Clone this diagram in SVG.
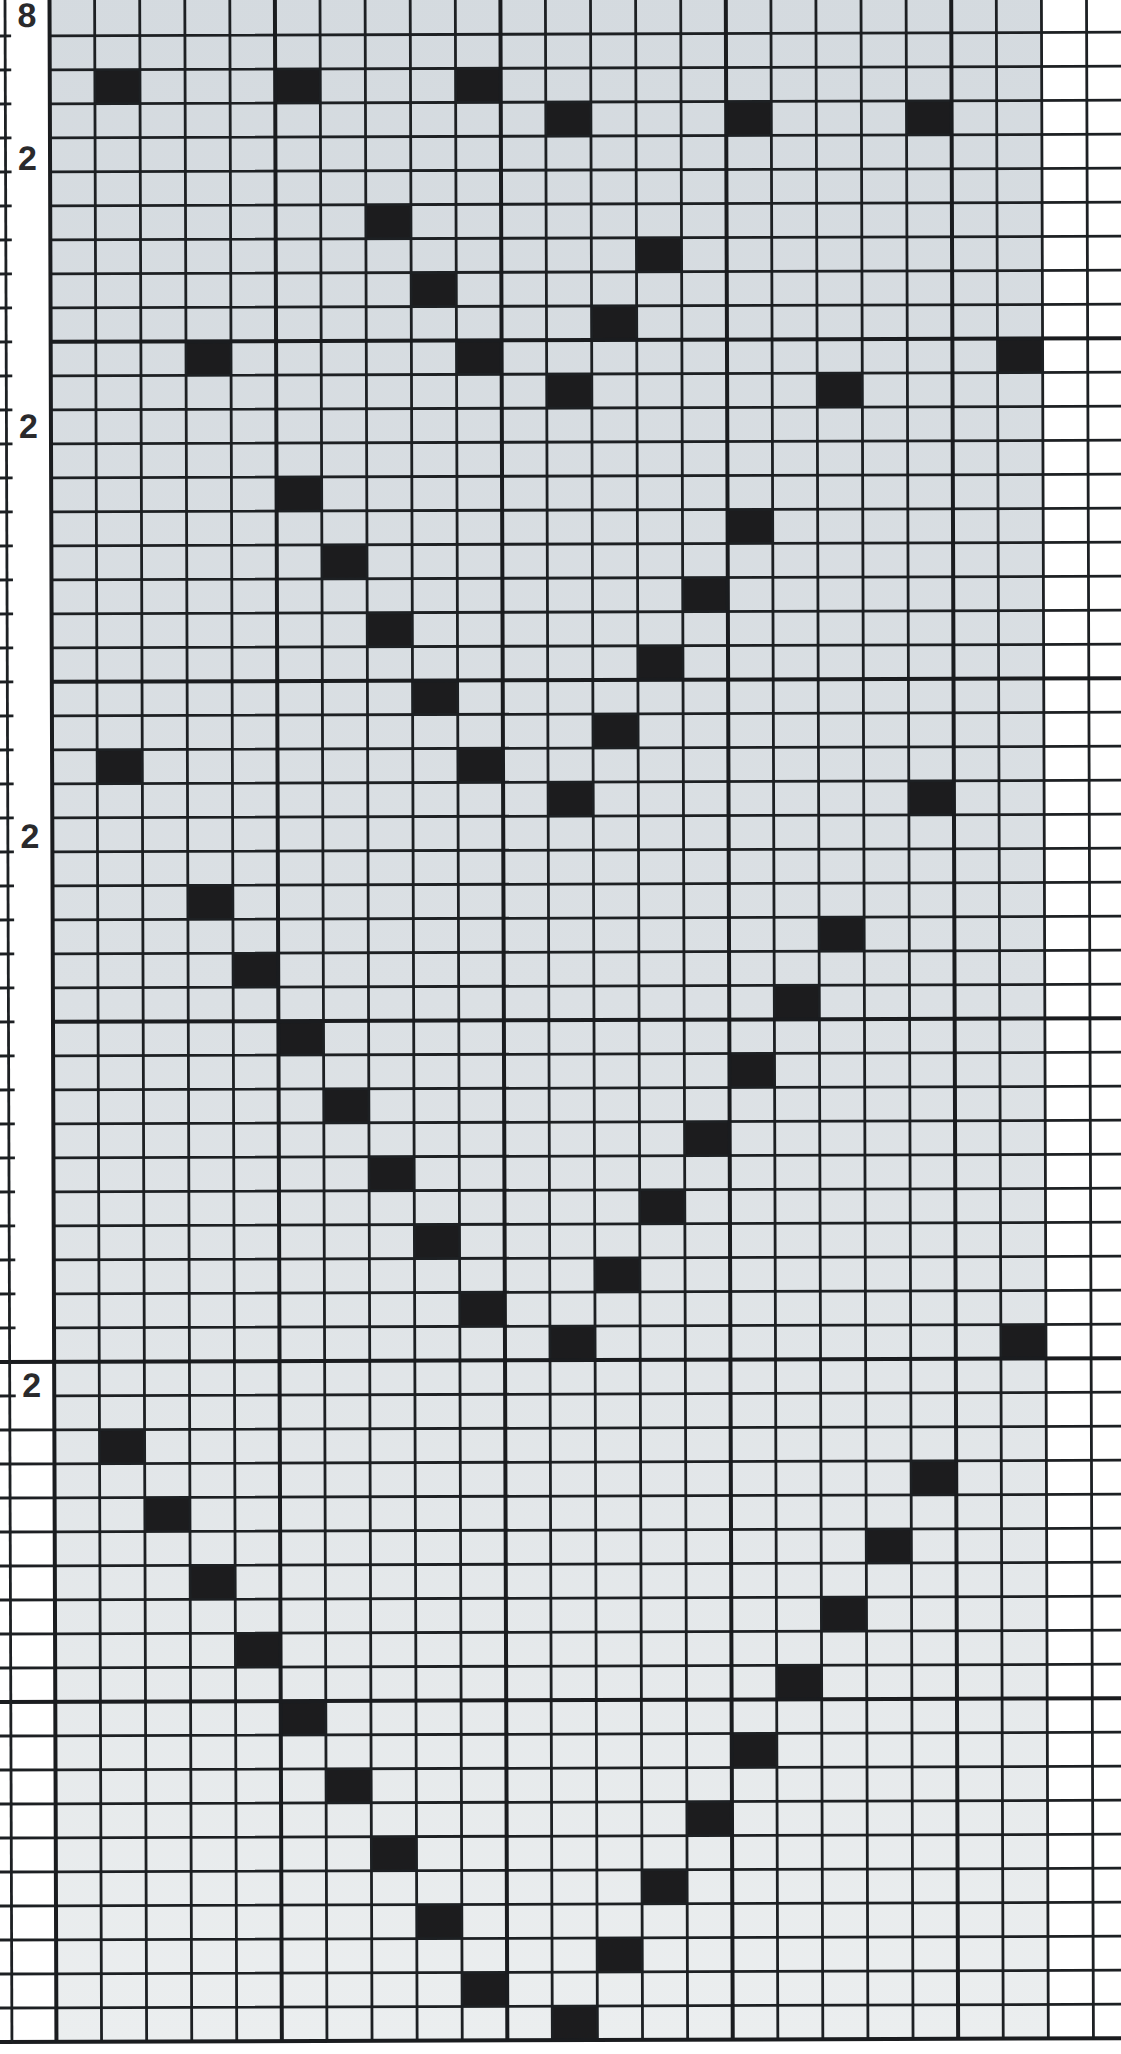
<svg xmlns="http://www.w3.org/2000/svg" width="1121" height="2054" viewBox="0 0 1121 2054">
<style>
.ln{stroke:#1d2023;stroke-width:2.8;fill:none}
.thk{stroke:#1a1c1f;stroke-width:4;fill:none}
.sq{fill:#1c1c1e}
.lbl{font-family:"Liberation Sans",Arial,sans-serif;font-weight:bold;font-size:34px;fill:#2a2a2c;text-anchor:middle}
</style>
<defs>
<linearGradient id="shade" x1="0" y1="0" x2="0" y2="1">
<stop offset="0" stop-color="#d4dadf"/>
<stop offset="0.5" stop-color="#dbe0e4"/>
<stop offset="1" stop-color="#ebeeef"/>
</linearGradient>
</defs>
<rect x="0" y="0" width="1121" height="2054" fill="#ffffff"/>
<g transform="rotate(-0.195)">
<rect id="chart-area" x="49.5" y="-40" width="991.9" height="2082" fill="url(#shade)"/>
<g id="stitches">
<rect class="sq" x="94.6" y="70" width="45.1" height="34"/>
<rect class="sq" x="274.9" y="70" width="45.1" height="34"/>
<rect class="sq" x="455.3" y="70" width="45.1" height="34"/>
<rect class="sq" x="545.4" y="104" width="45.1" height="34"/>
<rect class="sq" x="725.8" y="104" width="45.1" height="34"/>
<rect class="sq" x="906.1" y="104" width="45.1" height="34"/>
<rect class="sq" x="365.1" y="206" width="45.1" height="34"/>
<rect class="sq" x="635.6" y="240" width="45.1" height="34"/>
<rect class="sq" x="410.2" y="274" width="45.1" height="34"/>
<rect class="sq" x="590.5" y="308" width="45.1" height="34"/>
<rect class="sq" x="184.8" y="342" width="45.1" height="34"/>
<rect class="sq" x="455.3" y="342" width="45.1" height="34"/>
<rect class="sq" x="996.3" y="342" width="45.1" height="34"/>
<rect class="sq" x="545.4" y="376" width="45.1" height="34"/>
<rect class="sq" x="815.9" y="376" width="45.1" height="34"/>
<rect class="sq" x="274.9" y="478" width="45.1" height="34"/>
<rect class="sq" x="725.8" y="512" width="45.1" height="34"/>
<rect class="sq" x="320.0" y="546" width="45.1" height="34"/>
<rect class="sq" x="680.7" y="580" width="45.1" height="34"/>
<rect class="sq" x="365.1" y="614" width="45.1" height="34"/>
<rect class="sq" x="635.6" y="648" width="45.1" height="34"/>
<rect class="sq" x="410.2" y="682" width="45.1" height="34"/>
<rect class="sq" x="590.5" y="716" width="45.1" height="34"/>
<rect class="sq" x="94.6" y="750" width="45.1" height="34"/>
<rect class="sq" x="455.3" y="750" width="45.1" height="34"/>
<rect class="sq" x="545.4" y="784" width="45.1" height="34"/>
<rect class="sq" x="906.1" y="784" width="45.1" height="34"/>
<rect class="sq" x="184.8" y="886" width="45.1" height="34"/>
<rect class="sq" x="815.9" y="920" width="45.1" height="34"/>
<rect class="sq" x="229.8" y="954" width="45.1" height="34"/>
<rect class="sq" x="770.9" y="988" width="45.1" height="34"/>
<rect class="sq" x="274.9" y="1022" width="45.1" height="34"/>
<rect class="sq" x="725.8" y="1056" width="45.1" height="34"/>
<rect class="sq" x="320.0" y="1090" width="45.1" height="34"/>
<rect class="sq" x="680.7" y="1124" width="45.1" height="34"/>
<rect class="sq" x="365.1" y="1158" width="45.1" height="34"/>
<rect class="sq" x="635.6" y="1192" width="45.1" height="34"/>
<rect class="sq" x="410.2" y="1226" width="45.1" height="34"/>
<rect class="sq" x="590.5" y="1260" width="45.1" height="34"/>
<rect class="sq" x="455.3" y="1294" width="45.1" height="34"/>
<rect class="sq" x="545.4" y="1328" width="45.1" height="34"/>
<rect class="sq" x="996.3" y="1328" width="45.1" height="34"/>
<rect class="sq" x="94.6" y="1430" width="45.1" height="34"/>
<rect class="sq" x="906.1" y="1464" width="45.1" height="34"/>
<rect class="sq" x="139.7" y="1498" width="45.1" height="34"/>
<rect class="sq" x="861.0" y="1532" width="45.1" height="34"/>
<rect class="sq" x="184.8" y="1566" width="45.1" height="34"/>
<rect class="sq" x="815.9" y="1600" width="45.1" height="34"/>
<rect class="sq" x="229.8" y="1634" width="45.1" height="34"/>
<rect class="sq" x="770.9" y="1668" width="45.1" height="34"/>
<rect class="sq" x="274.9" y="1702" width="45.1" height="34"/>
<rect class="sq" x="725.8" y="1736" width="45.1" height="34"/>
<rect class="sq" x="320.0" y="1770" width="45.1" height="34"/>
<rect class="sq" x="680.7" y="1804" width="45.1" height="34"/>
<rect class="sq" x="365.1" y="1838" width="45.1" height="34"/>
<rect class="sq" x="635.6" y="1872" width="45.1" height="34"/>
<rect class="sq" x="410.2" y="1906" width="45.1" height="34"/>
<rect class="sq" x="590.5" y="1940" width="45.1" height="34"/>
<rect class="sq" x="455.3" y="1974" width="45.1" height="34"/>
<rect class="sq" x="545.4" y="2008" width="45.1" height="34"/>
</g>
<g id="grid">
<path class="ln" d="M94.6 -40V2042M139.7 -40V2042M184.8 -40V2042M229.8 -40V2042M320.0 -40V2042M365.1 -40V2042M410.2 -40V2042M455.3 -40V2042M545.4 -40V2042M590.5 -40V2042M635.6 -40V2042M680.7 -40V2042M770.9 -40V2042M815.9 -40V2042M861.0 -40V2042M906.1 -40V2042M996.3 -40V2042M1041.4 -40V2042M1086.5 -40V2042"/>
<path class="ln" d="M49.5 36H1130M49.5 70H1130M49.5 104H1130M49.5 138H1130M49.5 172H1130M49.5 206H1130M49.5 240H1130M49.5 274H1130M49.5 308H1130M49.5 376H1130M49.5 410H1130M49.5 444H1130M49.5 478H1130M49.5 512H1130M49.5 546H1130M49.5 580H1130M49.5 614H1130M49.5 648H1130M49.5 716H1130M49.5 750H1130M49.5 784H1130M49.5 818H1130M49.5 852H1130M49.5 886H1130M49.5 920H1130M49.5 954H1130M49.5 988H1130M49.5 1056H1130M49.5 1090H1130M49.5 1124H1130M49.5 1158H1130M49.5 1192H1130M49.5 1226H1130M49.5 1260H1130M49.5 1294H1130M49.5 1328H1130M49.5 1396H1130M49.5 1430H1130M49.5 1464H1130M49.5 1498H1130M49.5 1532H1130M49.5 1566H1130M49.5 1600H1130M49.5 1634H1130M49.5 1668H1130M49.5 1736H1130M49.5 1770H1130M49.5 1804H1130M49.5 1838H1130M49.5 1872H1130M49.5 1906H1130M49.5 1940H1130M49.5 1974H1130M49.5 2008H1130"/>
<path class="thk" d="M49.5 -40V2042M274.9 -40V2042M500.4 -40V2042M725.8 -40V2042M951.2 -40V2042"/>
<path class="thk" d="M49.5 342H1130M49.5 682H1130M49.5 1022H1130M-20 1362H1130M-20 1702H1130M-20 2042H1130"/>
</g>
<g id="ruler">
<path class="ln" d="M5 -40V2042"/>
<path class="ln" d="M-20 36H11M-20 70H11M-20 104H11M-20 138H11M-20 172H11M-20 206H11M-20 240H11M-20 274H11M-20 308H11M-20 342H11M-20 376H11M-20 410H11M-20 444H11M-20 478H11M-20 512H11M-20 546H11M-20 580H11M-20 614H11M-20 648H11M-20 682H11M-20 716H11M-20 750H11M-20 784H11M-20 818H11M-20 852H11M-20 886H11M-20 920H11M-20 954H11M-20 988H11M-20 1022H11M-20 1056H11M-20 1090H11M-20 1124H11M-20 1158H11M-20 1192H11M-20 1226H11M-20 1260H11M-20 1294H11M-20 1328H11M-20 1396H11"/>
<path class="ln" d="M-20 1430H49.5M-20 1464H49.5M-20 1498H49.5M-20 1532H49.5M-20 1566H49.5M-20 1600H49.5M-20 1634H49.5M-20 1668H49.5M-20 1736H49.5M-20 1770H49.5M-20 1804H49.5M-20 1838H49.5M-20 1872H49.5M-20 1906H49.5M-20 1940H49.5M-20 1974H49.5M-20 2008H49.5"/>
<text class="lbl" x="27" y="27">8</text>
<text class="lbl" x="27" y="170">2</text>
<text class="lbl" x="27" y="438">2</text>
<text class="lbl" x="27" y="848">2</text>
<text class="lbl" x="27" y="1397">2</text>
</g>
</g>
</svg>
